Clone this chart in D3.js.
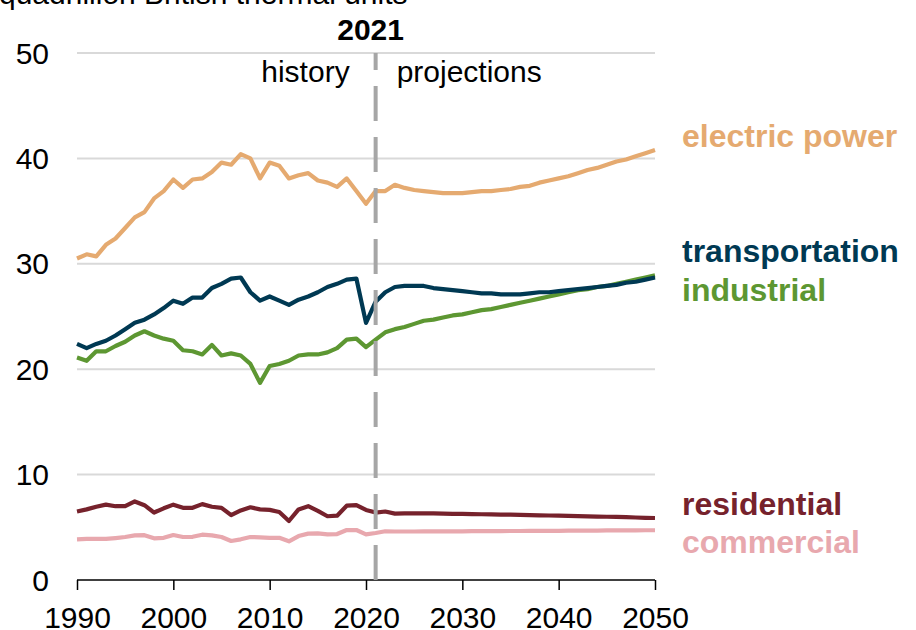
<!DOCTYPE html>
<html>
<head>
<meta charset="utf-8">
<script src="https://cdn.jsdelivr.net/npm/d3@7"></script>
<style>
  body { margin: 0; background: #fff; }
  text { font-family: "Liberation Sans", Arial, sans-serif; }
</style>
</head>
<body>
<div id="chart"></div>
<script>
// years 1990..2050, history through 2021, projections after
const years = d3.range(1990, 2051);
const xTicks = [1990, 2000, 2010, 2020, 2030, 2040, 2050];
const yTicks = [0, 10, 20, 30, 40, 50];
const splitYear = 2021;

const electricPower = [
  30.5, 30.9, 30.7, 31.8, 32.4, 33.4, 34.4, 34.9, 36.2, 36.9,
  38.0, 37.2, 38.0, 38.1, 38.7, 39.6, 39.4, 40.4, 40.0, 38.1,
  39.6, 39.3, 38.1, 38.4, 38.6, 37.9, 37.7, 37.3, 38.1, 36.9,
  35.7, 36.9, 36.9, 37.5, 37.2, 37.0, 36.9, 36.8, 36.7, 36.7,
  36.7, 36.8, 36.9, 36.9, 37.0, 37.1, 37.3, 37.4, 37.7, 37.9,
  38.1, 38.3, 38.6, 38.9, 39.1, 39.4, 39.7, 39.9, 40.2, 40.5,
  40.8
];
const transportation = [
  22.4, 22.0, 22.4, 22.7, 23.2, 23.8, 24.4, 24.7, 25.2, 25.8,
  26.5, 26.2, 26.8, 26.8, 27.7, 28.1, 28.6, 28.7, 27.3, 26.5,
  26.9, 26.5, 26.1, 26.6, 26.9, 27.3, 27.8, 28.1, 28.5, 28.6,
  24.4, 26.4, 27.3, 27.8, 27.9, 27.9, 27.9, 27.7, 27.6, 27.5,
  27.4, 27.3, 27.2, 27.2, 27.1, 27.1, 27.1, 27.2, 27.3, 27.3,
  27.4, 27.5, 27.6, 27.7, 27.8, 27.9, 28.0, 28.2, 28.3, 28.5,
  28.7
];
const industrial = [
  21.1, 20.8, 21.7, 21.7, 22.2, 22.6, 23.2, 23.6, 23.2, 22.9,
  22.7, 21.8, 21.7, 21.4, 22.3, 21.3, 21.5, 21.3, 20.5, 18.7,
  20.3, 20.5, 20.8, 21.3, 21.4, 21.4, 21.6, 22.0, 22.8, 22.9,
  22.1, 22.8, 23.5, 23.8, 24.0, 24.3, 24.6, 24.7, 24.9, 25.1,
  25.2, 25.4, 25.6, 25.7, 25.9, 26.1, 26.3, 26.5, 26.7, 26.9,
  27.1, 27.3, 27.5, 27.6, 27.8, 27.9, 28.1, 28.3, 28.5, 28.7,
  28.9
];
const residential = [
  6.5, 6.7, 6.95, 7.15, 7.0, 7.0, 7.45, 7.1, 6.4, 6.8,
  7.15, 6.85, 6.85, 7.2, 6.95, 6.85, 6.15, 6.6, 6.9, 6.7,
  6.65, 6.45, 5.6, 6.7, 7.0, 6.55, 6.05, 6.1, 7.05, 7.1,
  6.65, 6.4, 6.5, 6.3, 6.33, 6.33, 6.33, 6.32, 6.3, 6.28,
  6.27, 6.25, 6.24, 6.22, 6.21, 6.2, 6.18, 6.16, 6.14, 6.12,
  6.1, 6.08, 6.06, 6.04, 6.02, 6.0, 5.98, 5.96, 5.93, 5.9,
  5.88
];
const commercial = [
  3.86, 3.9, 3.9, 3.9, 3.98, 4.08, 4.24, 4.25, 3.95, 4.0,
  4.27, 4.08, 4.1, 4.3, 4.24, 4.08, 3.7, 3.86, 4.08, 4.05,
  4.0, 4.0, 3.67, 4.17, 4.4, 4.42, 4.33, 4.36, 4.74, 4.74,
  4.33, 4.46, 4.62, 4.6, 4.6, 4.6, 4.61, 4.61, 4.62, 4.62,
  4.62, 4.63, 4.63, 4.64, 4.64, 4.65, 4.65, 4.66, 4.66, 4.67,
  4.67, 4.68, 4.68, 4.69, 4.69, 4.7, 4.7, 4.71, 4.71, 4.72,
  4.72
];

const seriesNames = ['electric power', 'transportation', 'industrial', 'residential', 'commercial'];
const seriesValues = [electricPower, transportation, industrial, residential, commercial];
const seriesColors = ['#e5aa70', '#003953', '#5d9732', '#76222c', '#e8a8ae'];
const labelY = [147, 262, 301, 515, 553];
// drawing order: industrial goes under transportation
const drawOrder = [0, 2, 1, 3, 4];

const width = 916;
const height = 630;
const margin = { top: 53, right: 261, bottom: 50, left: 77 };

const svg = d3.select('#chart')
  .append('svg')
  .attr('width', width)
  .attr('height', height);

const x = d3.scaleLinear()
  .domain([1990, 2050])
  .range([margin.left, width - margin.right]);

const y = d3.scaleLinear()
  .domain([0, 50])
  .range([height - margin.bottom, margin.top]);

// gridlines
svg.append('g')
  .selectAll('line')
  .data(yTicks.filter(d => d > 0))
  .enter()
  .append('line')
  .attr('x1', x(1990))
  .attr('x2', x(2050))
  .attr('y1', d => y(d))
  .attr('y2', d => y(d))
  .attr('stroke', '#d9d9d9')
  .attr('stroke-width', 2);

// y labels
svg.append('g')
  .selectAll('text')
  .data(yTicks)
  .enter()
  .append('text')
  .attr('x', 49)
  .attr('y', d => y(d))
  .attr('dy', '0.35em')
  .attr('text-anchor', 'end')
  .attr('font-size', 30)
  .attr('fill', '#000')
  .text(d => d);

// x axis
const xAxis = svg.append('g')
  .attr('transform', `translate(0,${y(0)})`)
  .call(d3.axisBottom(x).tickValues(xTicks).tickFormat(d3.format('d')).tickSize(10).tickPadding(17));
xAxis.select('.domain').attr('stroke', '#000').attr('stroke-width', 1.5).attr('d', `M${x(1990)},0H${x(2050)}`);
xAxis.selectAll('.tick line').attr('stroke', '#000').attr('stroke-width', 1.5);
xAxis.selectAll('.tick text')
  .attr('font-size', 30)
  .attr('font-family', '"Liberation Sans", Arial, sans-serif')
  .attr('fill', '#000');

// series lines
const line = d3.line()
  .x((d, i) => x(years[i]))
  .y(d => y(d));

svg.append('g')
  .selectAll('path')
  .data(drawOrder)
  .enter()
  .append('path')
  .attr('d', k => line(seriesValues[k]))
  .attr('fill', 'none')
  .attr('stroke', k => seriesColors[k])
  .attr('stroke-width', 4.2)
  .attr('stroke-linejoin', 'round');

// history / projections divider
svg.append('line')
  .attr('x1', x(splitYear))
  .attr('x2', x(splitYear))
  .attr('y1', y(50))
  .attr('y2', y(0))
  .attr('stroke', '#a6a6a6')
  .attr('stroke-width', 4)
  .attr('stroke-dasharray', '35,16')
  .attr('stroke-dashoffset', 18);

svg.append('text')
  .attr('x', x(splitYear) - 5)
  .attr('y', 40)
  .attr('text-anchor', 'middle')
  .attr('font-size', 30)
  .attr('font-weight', 'bold')
  .text(splitYear);

svg.append('text')
  .attr('x', x(splitYear) - 26)
  .attr('y', 82)
  .attr('text-anchor', 'end')
  .attr('font-size', 30)
  .text('history');

svg.append('text')
  .attr('x', x(splitYear) + 21)
  .attr('y', 82)
  .attr('font-size', 30)
  .text('projections');

// unit label (top is cut off in the original)
svg.append('text')
  .attr('x', -1)
  .attr('y', 4)
  .attr('font-size', 30)
  .text('quadrillion British thermal units');

// series labels
svg.append('g')
  .selectAll('text')
  .data(seriesNames)
  .enter()
  .append('text')
  .attr('x', 682)
  .attr('y', (d, i) => labelY[i])
  .attr('font-size', 32)
  .attr('font-weight', 'bold')
  .attr('fill', (d, i) => seriesColors[i])
  .text(d => d);
</script>
</body>
</html>
